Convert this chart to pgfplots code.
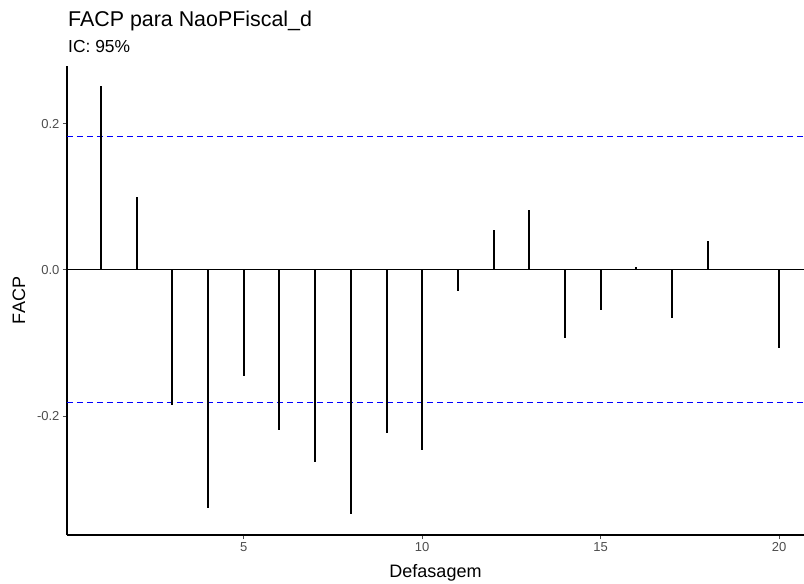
\documentclass[border=0pt]{standalone}
\usepackage{pgfplots}
\pgfplotsset{compat=1.18}
\usepackage{fontspec}
\setmainfont{Liberation Sans}
\definecolor{tickgray}{HTML}{4D4D4D}
\definecolor{ciblue}{HTML}{0000FF}
\begin{document}
\begin{tikzpicture}
\begin{axis}[
  scale only axis,
  width=737pt, height=469pt,
  xmin=0.045, xmax=20.7,
  ymin=-0.363, ymax=0.279,
  axis lines*=left,
  axis line style={black, line width=1.1pt},
  xtick={5,10,15,20},
  ytick={-0.2,0,0.2},
  yticklabels={-0.2,0.0,0.2},
  tick style={tickgray, line width=0.8pt},
  tick align=outside,
  major tick length=4pt,
  ticklabel style={font=\fontsize{13}{15}\selectfont, text=tickgray},
  /pgf/number format/assume math mode=true,
  clip=false,
]
\addplot[draw=black, line width=1.3pt] coordinates {(0.045,0) (20.7,0)};
\addplot[draw=ciblue, line width=1.1pt, dash pattern=on 6pt off 4pt] coordinates {(0.045,0.182) (20.7,0.182)};
\addplot[draw=ciblue, line width=1.1pt, dash pattern=on 6pt off 4pt] coordinates {(0.045,-0.182) (20.7,-0.182)};
\addplot[ycomb, draw=black, line width=2pt, mark=none] table {
x y
1 0.251
2 0.099
3 -0.185
4 -0.326
5 -0.145
6 -0.219
7 -0.263
8 -0.334
9 -0.223
10 -0.247
11 -0.029
12 0.055
13 0.082
14 -0.093
15 -0.055
16 0.004
17 -0.066
18 0.040
19 0.000
20 -0.107
};
\node[anchor=base west, font=\fontsize{21.4}{24}\selectfont, inner sep=0pt] at ([xshift=1pt, yshift=39pt]rel axis cs:0,1) {FACP para NaoPFiscal\_d};
\node[anchor=base west, font=\fontsize{17.4}{20}\selectfont, inner sep=0pt] at ([xshift=1pt, yshift=13pt]rel axis cs:0,1) {IC: 95\%};
\node[anchor=base, font=\fontsize{18}{21}\selectfont, inner sep=0pt] at ([yshift=-42pt]rel axis cs:0.5,0) {Defasagem};
\node[rotate=90, anchor=center, font=\fontsize{18}{21}\selectfont, inner sep=0pt] at ([xshift=-48pt]rel axis cs:0,0.5) {FACP};
\end{axis}
\pgfresetboundingbox
\path[use as bounding box] ([xshift=-67pt, yshift=-49pt]current axis.south west) rectangle ([yshift=66pt]current axis.north east);
\end{tikzpicture}
\end{document}
